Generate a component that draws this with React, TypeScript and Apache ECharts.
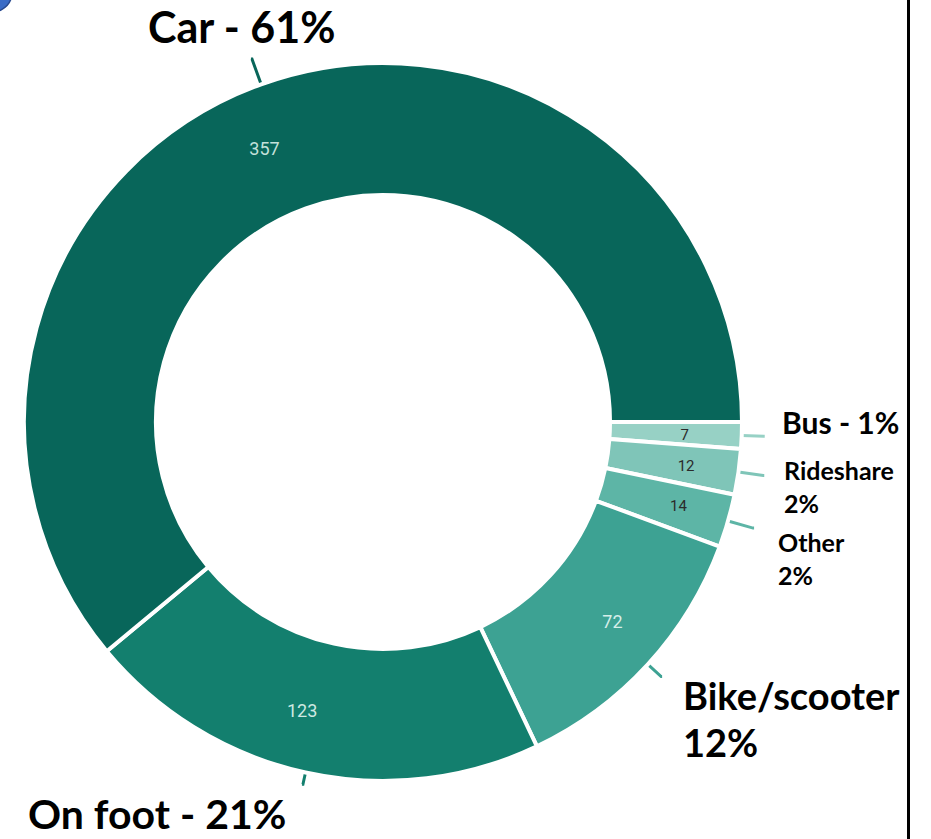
import React, { useEffect, useRef } from "react";
import * as echarts from "echarts";

// Data (clockwise from 3 o'clock)
const categories = ["Bus", "Rideshare", "Other", "Bike/scooter", "On foot", "Car"];
const values = [7, 12, 14, 72, 123, 357];
const sliceColors = ["#97d1c5", "#7fc5b8", "#5db5a6", "#3da293", "#137f6e", "#08665a"];
const valueLabelColors = ["#2b2b2b", "#2b2b2b", "#2b2b2b", "#d5eee9", "#cfe9e2", "#c4e1da"];
const valueLabelSizes = [15, 15, 15, 18, 18, 18];
const valueLabelOffsets = [[6, 2], [10, 3], [11, 2], [11, 0], [-17, -1], [-18, 5]];
const leaderLengths = [22, 25, 26, 18, 12, 27];

// Category annotation texts
const annotationLines = [
  { text: "Car - 61%", x: 148, y: 26, size: 43 },
  { text: "Bus - 1%", x: 782, y: 422, size: 30 },
  { text: "Rideshare", x: 784, y: 470, size: 25 },
  { text: "2%", x: 784, y: 503, size: 25 },
  { text: "Other", x: 778, y: 542, size: 25 },
  { text: "2%", x: 778, y: 575, size: 25 },
  { text: "Bike/scooter", x: 683, y: 695, size: 38 },
  { text: "12%", x: 683, y: 742, size: 38 },
  { text: "On foot - 21%", x: 28, y: 813, size: 41 },
];

export default function App() {
  const ref = useRef<HTMLDivElement>(null);
  useEffect(() => {
    if (!ref.current) return;
    const chart = echarts.init(ref.current, null, { renderer: "svg" });
    const center = [383, 422];
    const radius = [227, 359];
    const option = {
      animation: false,
      backgroundColor: "#ffffff",
      series: [
        {
          type: "pie",
          silent: true,
          center,
          radius,
          startAngle: 0,
          clockwise: true,
          avoidLabelOverlap: false,
          itemStyle: { color: "rgba(0,0,0,0)", borderWidth: 0 },
          label: { show: true, position: "outside", formatter: " ", fontSize: 1 },
          data: categories.map((c, i) => ({
            name: c,
            value: values[i],
            labelLine: {
              show: true,
              length: leaderLengths[i],
              length2: 1,
              lineStyle: { color: sliceColors[i], width: 3 },
            },
          })),
        },
        {
          type: "pie",
          silent: true,
          center,
          radius,
          startAngle: 0,
          clockwise: true,
          avoidLabelOverlap: false,
          itemStyle: { borderColor: "#ffffff", borderWidth: 4 },
          labelLine: { show: false },
          label: {
            show: true,
            position: "inside",
            formatter: "{c}",
            fontFamily: "Roboto, 'Liberation Sans', sans-serif",
          },
          data: categories.map((c, i) => ({
            name: c,
            value: values[i],
            itemStyle: { color: sliceColors[i] },
            label: {
              color: valueLabelColors[i],
              fontSize: valueLabelSizes[i],
              offset: valueLabelOffsets[i],
            },
          })),
        },
      ],
      graphic: [
        {
          type: "circle",
          shape: { cx: -8, cy: -8, r: 20 },
          style: { fill: "#3a6cc6", stroke: "#27498f", lineWidth: 1.5 },
        },
        {
          type: "rect",
          shape: { x: 907, y: 0, width: 3, height: 839 },
          style: { fill: "#000000" },
        },
        ...annotationLines.map((a) => ({
          type: "text",
          x: a.x,
          y: a.y,
          style: {
            text: a.text,
            fill: "#000000",
            font: `bold ${a.size}px Lato, 'Open Sans', sans-serif`,
            textAlign: "left",
            textVerticalAlign: "middle",
          },
        })),
      ],
    };
    chart.setOption(option as any);
    return () => chart.dispose();
  }, []);
  return (
    <div
      ref={ref}
      style={{ position: "fixed", left: 0, top: 0, width: 931, height: 839 }}
    />
  );
}
